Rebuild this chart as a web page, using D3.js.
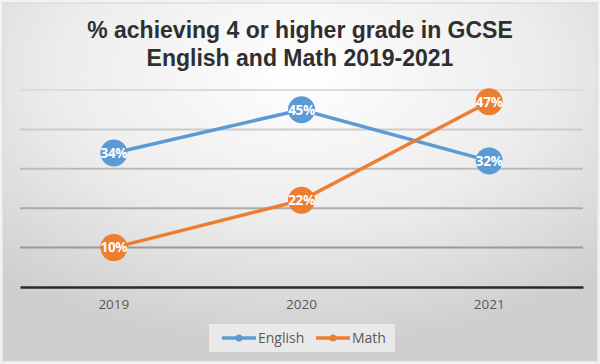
<!DOCTYPE html>
<html><head><meta charset="utf-8">
<script src="https://cdn.jsdelivr.net/npm/d3@7"></script>
<style>body{margin:0;background:#fff;}svg{display:block;}</style>
</head><body><div id="c"></div>
<script>
const categories = ["2019", "2020", "2021"];
const english = [34, 45, 32];
const math = [10, 22, 47];
const yTicks = [10, 20, 30, 40, 50];
const seriesNames = ["English", "Math"];
const colors = ["#5b9bd5", "#ed7d31"];

const W = 600, H = 364;
const svg = d3.select("#c").append("svg").attr("width", W).attr("height", H);
const defs = svg.append("defs");
const rg = defs.append("radialGradient").attr("id", "bg")
  .attr("cx", "50%").attr("cy", "20%").attr("r", "75%");
rg.append("stop").attr("offset", "0%").attr("stop-color", "#ffffff");
rg.append("stop").attr("offset", "55%").attr("stop-color", "#ececec");
rg.append("stop").attr("offset", "100%").attr("stop-color", "#cfcfcf");

svg.append("rect").attr("width", W).attr("height", H).attr("fill", "#f2f2f2");
svg.append("rect").attr("x", 3).attr("y", 3).attr("width", W - 6).attr("height", H - 6)
  .attr("fill", "url(#bg)").attr("stroke", "#d6d6d6").attr("stroke-width", 1);

const m = {left: 20, right: 17, top: 90, bottom: 77};
const x = d3.scaleBand().domain(categories).range([m.left, W - m.right]);
const y = d3.scaleLinear().domain([0, 50]).range([H - m.bottom, m.top]);

// title
const title = svg.append("text").attr("x", 300).attr("text-anchor", "middle")
  .attr("font-family", "Liberation Sans, Arial, sans-serif").attr("font-weight", "bold")
  .attr("font-size", 23).attr("fill", "#2f2f2f");
title.append("tspan").attr("x", 300).attr("y", 38).text("% achieving 4 or higher grade in GCSE");
title.append("tspan").attr("x", 300).attr("y", 66).text("English and Math 2019-2021");

// gridlines
const gridColor = d3.scaleLinear().domain([10, 50]).range(["#9a9a9a", "#dcdcdc"]);
svg.append("g").selectAll("line").data(yTicks).join("line")
  .attr("x1", m.left).attr("x2", W - m.right)
  .attr("y1", d => y(d)).attr("y2", d => y(d))
  .attr("stroke", d => gridColor(d)).attr("stroke-width", 2);

// x axis
const xAxis = svg.append("g").attr("transform", `translate(0,${y(0)})`)
  .call(d3.axisBottom(x).tickSize(0).tickPadding(12));
xAxis.select(".domain").attr("stroke", "#2a2a2a").attr("stroke-width", 2.5);
xAxis.selectAll("text").attr("font-family", "Open Sans, sans-serif").attr("font-size", 13.5)
  .attr("fill", "#595959");

const series = [english, math];
const line = d3.line().x((d, i) => x(categories[i]) + x.bandwidth() / 2).y(d => y(d));
series.forEach((s, k) => {
  svg.append("path").datum(s).attr("d", line).attr("fill", "none")
    .attr("stroke", colors[k]).attr("stroke-width", 3.5);
});
series.forEach((s, k) => {
  const g = svg.append("g");
  g.selectAll("circle").data(s).join("circle")
    .attr("cx", (d, i) => x(categories[i]) + x.bandwidth() / 2).attr("cy", d => y(d))
    .attr("r", 13.5).attr("fill", colors[k]);
  g.selectAll("text").data(s).join("text")
    .attr("x", (d, i) => x(categories[i]) + x.bandwidth() / 2).attr("y", d => y(d))
    .attr("dy", "0.36em").attr("text-anchor", "middle")
    .attr("font-family", "Open Sans, sans-serif").attr("font-weight", "bold")
    .attr("font-size", 13.5).attr("letter-spacing", -0.3).attr("fill", "#ffffff").text(d => d + "%");
});

// legend
const lg = svg.append("g");
lg.append("rect").attr("x", 209).attr("y", 324).attr("width", 186).attr("height", 28)
  .attr("fill", "#e9e9e9");
const lx = [222, 316];
seriesNames.forEach((n, k) => {
  lg.append("line").attr("x1", lx[k]).attr("x2", lx[k] + 34).attr("y1", 338).attr("y2", 338)
    .attr("stroke", colors[k]).attr("stroke-width", 3.5);
  lg.append("circle").attr("cx", lx[k] + 17).attr("cy", 338).attr("r", 3.5).attr("fill", colors[k]);
  lg.append("text").attr("x", lx[k] + 36).attr("y", 338).attr("dy", "0.36em")
    .attr("font-family", "Open Sans, sans-serif").attr("font-size", 14).attr("fill", "#595959").text(n);
});
</script></body></html>
